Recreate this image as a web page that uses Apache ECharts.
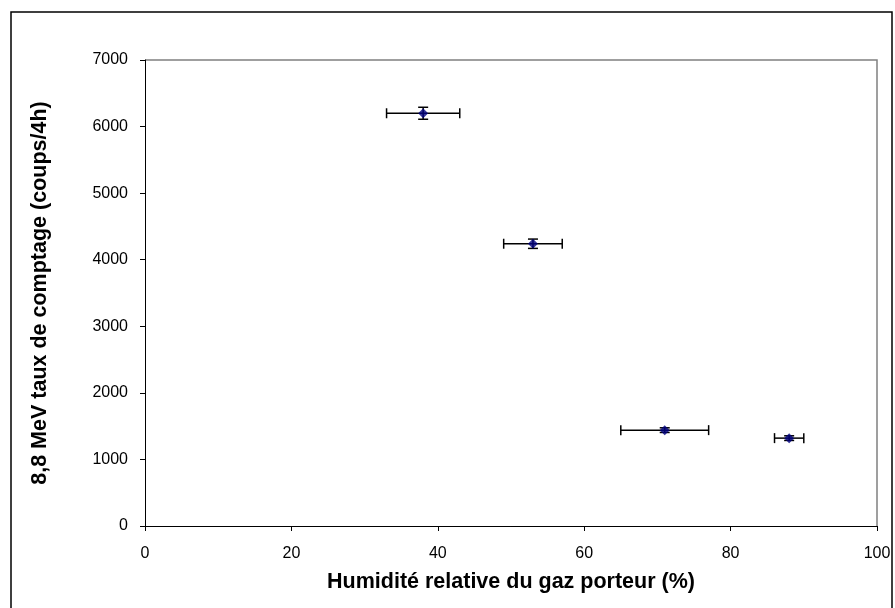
<!DOCTYPE html>
<html>
<head>
<meta charset="utf-8">
<script src="https://cdn.jsdelivr.net/npm/echarts@6/dist/echarts.min.js"></script>
<style>
  html, body { margin: 0; padding: 0; background: #fff; }
  #chart { width: 895px; height: 608px; }
</style>
</head>
<body>
<div id="chart"></div>
<script>
// valeurs
var humidite = [38, 53, 71, 88];
var comptage = [6200, 4240, 1440, 1320];
var errHumidite = [5, 4, 6, 2];
var errComptage = [90, 70, 35, 35];

var points = humidite.map(function (h, i) { return [h, comptage[i]]; });
var barres = humidite.map(function (h, i) {
  return [h, comptage[i], errHumidite[i], errComptage[i]];
});

var chart = echarts.init(document.getElementById('chart'));

function renderErr(params, api) {
  var x = api.value(0), y = api.value(1), dx = api.value(2), dy = api.value(3);
  var l = api.coord([x - dx, y]), r = api.coord([x + dx, y]);
  var t = api.coord([x, y + dy]), b = api.coord([x, y - dy]);
  var cap = 5, st = { stroke: '#000', lineWidth: 1.5 };
  return {
    type: 'group',
    children: [
      { type: 'line', shape: { x1: l[0], y1: l[1], x2: r[0], y2: r[1] }, style: st },
      { type: 'line', shape: { x1: l[0], y1: l[1] - cap, x2: l[0], y2: l[1] + cap }, style: st },
      { type: 'line', shape: { x1: r[0], y1: r[1] - cap, x2: r[0], y2: r[1] + cap }, style: st },
      { type: 'line', shape: { x1: t[0], y1: t[1], x2: b[0], y2: b[1] }, style: st },
      { type: 'line', shape: { x1: t[0] - cap, y1: t[1], x2: t[0] + cap, y2: t[1] }, style: st },
      { type: 'line', shape: { x1: b[0] - cap, y1: b[1], x2: b[0] + cap, y2: b[1] }, style: st }
    ]
  };
}

chart.setOption({
  animation: false,
  textStyle: { fontFamily: 'Liberation Sans, Arial, sans-serif' },
  graphic: [
    { type: 'rect', shape: { x: 11, y: 12, width: 881, height: 600 },
      style: { fill: 'none', stroke: '#000', lineWidth: 1.5 }, z: -1 },
    { type: 'polyline', shape: { points: [[145, 60], [877, 60], [877, 526]] },
      style: { fill: 'none', stroke: '#808080', lineWidth: 1.5 } }
  ],
  grid: { left: 145, right: 18, top: 60, bottom: 82, containLabel: false },
  xAxis: {
    type: 'value', min: 0, max: 100, interval: 20,
    name: 'Humidité relative du gaz porteur (%)',
    nameLocation: 'middle', nameGap: 45,
    nameTextStyle: { fontSize: 21.5, fontWeight: 'bold', color: '#000' },
    axisLine: { lineStyle: { color: '#000', width: 1 } },
    axisTick: { show: true, inside: false, length: 5, lineStyle: { color: '#000' } },
    axisLabel: { fontSize: 16, color: '#000', margin: 20 },
    splitLine: { show: false }
  },
  yAxis: {
    type: 'value', min: 0, max: 7000, interval: 1000,
    name: '8,8 MeV taux de comptage (coups/4h)',
    nameLocation: 'middle', nameGap: 94,
    nameTextStyle: { fontSize: 21.5, fontWeight: 'bold', color: '#000' },
    axisLine: { show: true, lineStyle: { color: '#000', width: 1 } },
    axisTick: { show: true, inside: false, length: 5, lineStyle: { color: '#000' } },
    axisLabel: { fontSize: 16, color: '#000', margin: 17, formatter: function (v) { return String(v); } },
    splitLine: { show: false }
  },
  series: [
    {
      type: 'custom',
      renderItem: renderErr,
      data: barres,
      encode: { x: 0, y: 1 },
      z: 2
    },
    {
      type: 'scatter',
      data: points,
      symbol: 'diamond',
      symbolSize: 10,
      itemStyle: { color: '#000080' },
      z: 3
    }
  ]
});
</script>
</body>
</html>
